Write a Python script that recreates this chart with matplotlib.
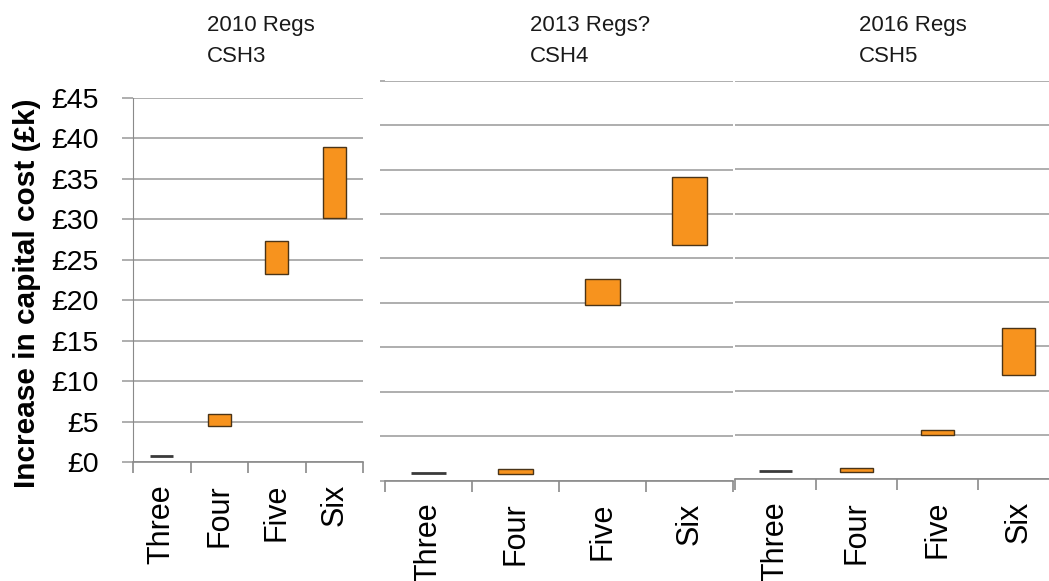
import matplotlib
matplotlib.use("Agg")
import matplotlib.pyplot as plt
import numpy as np

# Cost range (low/high, £k) for each Code for Sustainable Homes level
categories = ['Three', 'Four', 'Five', 'Six']
csh3_low = [0.8, 4.4, 23.3, 30.2]
csh3_high = [0.8, 5.9, 27.3, 38.9]
csh4_low = [0.9, 0.75, 19.8, 26.5]
csh4_high = [0.9, 1.3, 22.7, 34.2]
csh5_low = [0.9, 0.75, 5.0, 11.8]
csh5_high = [0.9, 1.3, 5.5, 17.1]
titles = ['2010 Regs\nCSH3', '2013 Regs?\nCSH4', '2016 Regs\nCSH5']
yticks = np.arange(0, 50, 5)

W, H = 1049, 581
FONT = ['Liberation Sans', 'DejaVu Sans']
GRID = '#a8a8a8'
AXIS = '#8a8a8a'
ORANGE = '#f7931e'
EDGE = '#4a3418'
PT = 72 / 100  # points per pixel at dpi=100

fig = plt.figure(figsize=(W / 100, H / 100), dpi=100)
fig.patch.set_facecolor('white')


def px_axes(x0, x1, ybot, ytop):
    return fig.add_axes([x0 / W, (H - ybot) / H, (x1 - x0) / W, (ybot - ytop) / H])


def draw_panel(ax, low, high, show_y=False, left_tick=0):
    x = np.arange(len(categories))
    low = np.array(low)
    high = np.array(high)
    for i in range(len(x)):
        if high[i] - low[i] < 0.05:
            # a range with no spread is drawn as a flat marker line
            ax.plot([x[i] - 0.2, x[i] + 0.2], [low[i], low[i]], color='#3a3a3a', lw=2, solid_capstyle='butt', zorder=3)
        else:
            ax.bar(x[i], high[i] - low[i], bottom=low[i], width=0.4, color=ORANGE, edgecolor=EDGE, linewidth=1, zorder=3)
    ax.set_xlim(-0.5, len(categories) - 0.5)
    ax.set_ylim(0, 45)
    ax.set_yticks(yticks)
    ax.yaxis.grid(True, color=GRID, lw=1.3)
    ax.set_axisbelow(True)
    for s in ['top', 'right']:
        ax.spines[s].set_visible(False)
    ax.spines['bottom'].set_color(AXIS)
    ax.spines['bottom'].set_linewidth(1.2)
    ax.spines['left'].set_color(AXIS)
    ax.spines['left'].set_visible(show_y)
    if show_y:
        ax.set_yticklabels(['£%d' % v for v in yticks], family=FONT, fontsize=20.5)
        ax.tick_params(axis='y', length=11 * PT, color=GRID, width=1.3, pad=23 * PT)
    else:
        ax.set_yticklabels([])
        ax.tick_params(axis='y', length=left_tick * PT, color=GRID, width=1.3)
    ax.set_xticks(x)
    ax.set_xticklabels(categories, rotation=90, va='top', ha='center', family=FONT, fontsize=22)
    ax.set_xticks(np.arange(-0.5, len(categories)), minor=True)
    ax.tick_params(axis='x', which='major', length=0, pad=22 * PT)
    ax.tick_params(axis='x', which='minor', length=11 * PT, color=AXIS, width=1.2)
    ax.patch.set_alpha(0)


ax1 = px_axes(133, 363, 462, 98)
draw_panel(ax1, csh3_low, csh3_high, show_y=True)
ax2 = px_axes(385, 733, 480.7, 80.7)
draw_panel(ax2, csh4_low, csh4_high, left_tick=5)
ax3 = px_axes(735, 1059, 479, 81)
draw_panel(ax3, csh5_low, csh5_high)

for t, xp in zip(titles, [207, 530, 859]):
    fig.text(xp / W, 1 - 15 / H, t, ha='left', va='top', family=FONT, fontsize=16, linespacing=1.6, color='#1a1a1a')

fig.text(27 / W, 1 - 293 / H, 'Increase in capital cost (£k)', rotation=90, ha='center', va='center',
         family=FONT, fontsize=21.5, fontweight='bold')

fig.savefig('out.png', dpi=100)
